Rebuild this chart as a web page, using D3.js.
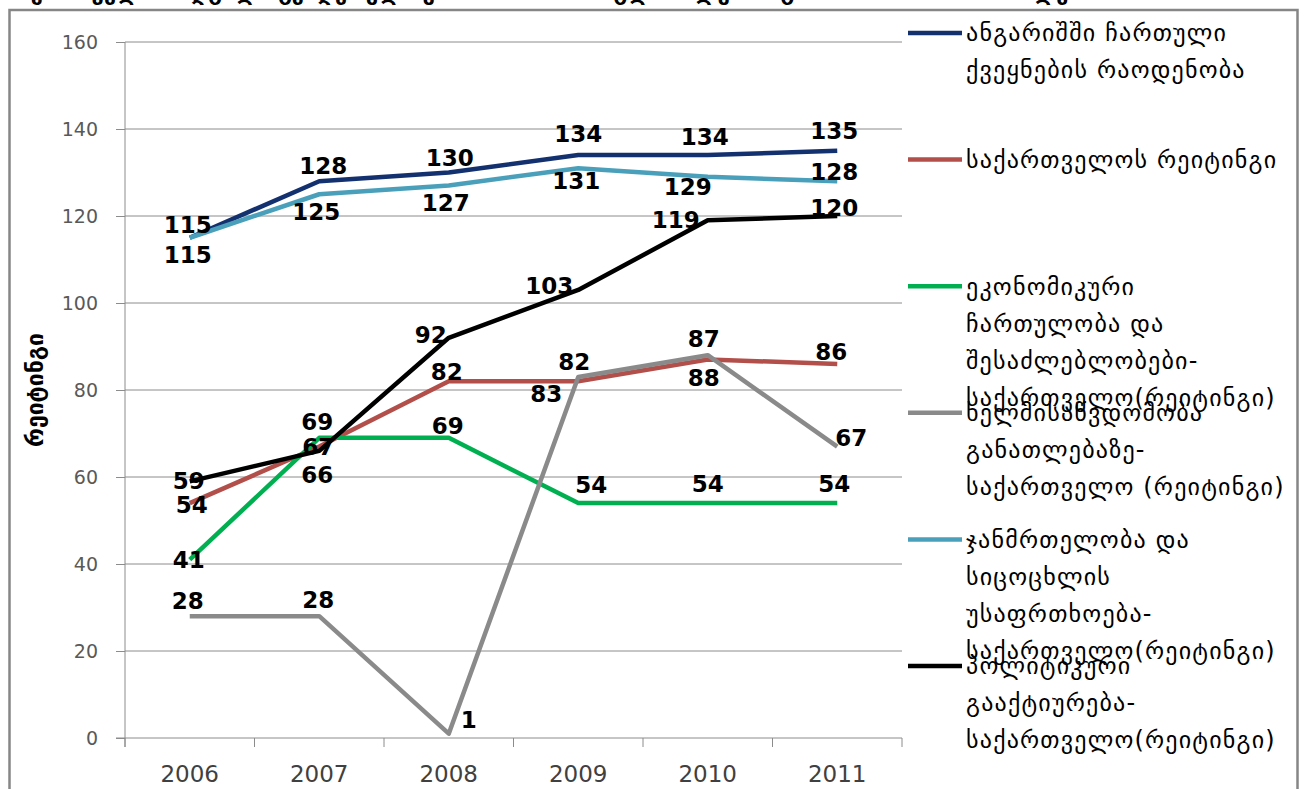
<!DOCTYPE html>
<html lang="ka">
<head>
<meta charset="utf-8">
<title>საქართველოს რეიტინგი</title>
<script src="https://d3js.org/d3.v7.min.js"></script>
<style>
  body { margin: 0; background: #fff; }
  text { font-family: "DejaVu Sans", sans-serif; }
</style>
</head>
<body>
<script>
// categories and series values
var years = ["2006", "2007", "2008", "2009", "2010", "2011"];
var countries = [115, 128, 130, 134, 134, 135];
var georgia = [54, 67, 82, 82, 87, 86];
var economic = [41, 69, 69, 54, 54, 54];
var education = [28, 28, 1, 83, 88, 67];
var health = [115, 125, 127, 131, 129, 128];
var political = [59, 66, 92, 103, 119, 120];
var yTicks = [0, 20, 40, 60, 80, 100, 120, 140, 160];

var seriesNames = [
  "ანგარიშში ჩართული\nქვეყნების რაოდენობა",
  "საქართველოს რეიტინგი",
  "ეკონომიკური\nჩართულობა და\nშესაძლებლობები-\nსაქართველო(რეიტინგი)",
  "ხელმისაწვდომობა\nგანათლებაზე-\nსაქართველო (რეიტინგი)",
  "ჯანმრთელობა და\nსიცოცხლის\nუსაფრთხოება-\nსაქართველო(რეიტინგი)",
  "პოლიტიკური\nგააქტიურება-\nსაქართველო(რეიტინგი)"
];
var yTitle = "რეიტინგი";
var title = "საქართველოს ადგილი გენდერული უთანასწორობის გლობალურ ანგარიშში 2006-2011 წლებში";

var colors = ["#13306f", "#b34f4a", "#00b050", "#8a8a8a", "#4aa0ba", "#000000"];

// where each data label sits relative to its point (label centre)
var labelShift = [
  [[-2, -13], [4, -15], [1, -15], [0, -21], [-3, -18], [-3, -20]],
  [[2, 2], [-1, 0], [-2, -9], [-4, -19], [-4, -21], [-6, -12]],
  [[-1, 0], [-2, -16], [-1, -12], [13, -18], [0, -19], [-3, -19]],
  [[-2, -15], [-1, -16], [20, -14], [-32, 17], [-4, 23], [14, -9]],
  [[-2, 17], [-3, 18], [-3, 17], [-2, 13], [-20, 10], [-3, -9]],
  [[-1, 0], [-2, 24], [-18, -3], [-29, -4], [-32, 0], [-3, -8]]
];

var series = [countries, georgia, economic, education, health, political].map(function(v, i) {
  return { name: seriesNames[i], values: v, color: colors[i], shift: labelShift[i] };
});

var W = 1304, H = 789;
var svg = d3.select("body").append("svg").attr("width", W).attr("height", H);

// outer frame
svg.append("rect")
  .attr("x", 9.5).attr("y", 10).attr("width", 1288).attr("height", 800)
  .attr("fill", "#fff").attr("stroke", "#868686").attr("stroke-width", 2.5);

// clipped title, only its lower edge shows
svg.append("text")
  .attr("x", 6).attr("y", 0)
  .attr("font-size", 22).attr("font-weight", "bold")
  .text(title);

var plotLeft = 125, plotRight = 902, plotTop = 42, plotBottom = 738;

var x = d3.scaleBand().domain(years).range([plotLeft, plotRight]).padding(0);
var y = d3.scaleLinear().domain([0, 160]).range([plotBottom, plotTop]);
var cx = function(i) { return x(years[i]) + x.bandwidth() / 2; };

// gridlines
svg.append("g").selectAll("line")
  .data(yTicks.filter(function(t) { return t > 0; }))
  .enter().append("line")
  .attr("x1", plotLeft).attr("x2", plotRight)
  .attr("y1", function(d) { return y(d); }).attr("y2", function(d) { return y(d); })
  .attr("stroke", "#8c8c8c").attr("stroke-width", 1);

// y axis
var yAxis = svg.append("g")
  .attr("transform", "translate(" + plotLeft + ",0)")
  .call(d3.axisLeft(y).tickValues(yTicks).tickSize(9).tickPadding(18));
yAxis.select(".domain").attr("stroke", "#8c8c8c").attr("d", "M0," + plotTop + "V" + (plotBottom + 9));
yAxis.selectAll(".tick line").attr("stroke", "#8c8c8c");
yAxis.selectAll(".tick text")
  .attr("font-family", "DejaVu Sans").attr("font-size", 19).attr("fill", "#595959");

// x axis with ticks at category boundaries
var xg = svg.append("g").attr("transform", "translate(0," + plotBottom + ")");
xg.append("line").attr("x1", plotLeft - 9).attr("x2", plotRight).attr("stroke", "#8c8c8c");
xg.selectAll(".bt")
  .data(years.concat(["end"]))
  .enter().append("line")
  .attr("x1", function(d, i) { return plotLeft + i * x.step(); })
  .attr("x2", function(d, i) { return plotLeft + i * x.step(); })
  .attr("y1", 0).attr("y2", 9)
  .attr("stroke", "#8c8c8c");
xg.selectAll(".yl")
  .data(years)
  .enter().append("text")
  .attr("x", function(d, i) { return cx(i); })
  .attr("y", 44)
  .attr("text-anchor", "middle")
  .attr("font-family", "'Liberation Sans Narrow', 'Liberation Sans', sans-serif")
  .attr("font-size", 23).attr("fill", "#404040")
  .text(function(d) { return d; });

// y title
svg.append("text")
  .attr("transform", "translate(43,390) rotate(-90)")
  .attr("text-anchor", "middle")
  .attr("font-size", 23).attr("font-weight", "bold")
  .text(yTitle);

// lines
var line = d3.line()
  .x(function(d, i) { return cx(i); })
  .y(function(d) { return y(d); });

svg.append("g").selectAll("path")
  .data(series)
  .enter().append("path")
  .attr("d", function(s) { return line(s.values); })
  .attr("fill", "none")
  .attr("stroke", function(s) { return s.color; })
  .attr("stroke-width", 4.5)
  .attr("stroke-linejoin", "round");

// data labels
series.forEach(function(s) {
  svg.append("g").selectAll("text")
    .data(s.values)
    .enter().append("text")
    .attr("x", function(d, i) { return cx(i) + s.shift[i][0]; })
    .attr("y", function(d, i) { return y(d) + s.shift[i][1]; })
    .attr("dy", "0.35em")
    .attr("text-anchor", "middle")
    .attr("font-family", "Lato, 'Liberation Sans', sans-serif")
    .attr("font-weight", "bold")
    .attr("font-size", 23)
    .attr("fill", "#000")
    .text(function(d) { return d; });
});

// legend
var legend = svg.append("g");
series.forEach(function(s, i) {
  var ly = 33 + i * 126.6;
  legend.append("line")
    .attr("x1", 908).attr("x2", 962)
    .attr("y1", ly).attr("y2", ly)
    .attr("stroke", s.color).attr("stroke-width", 4.5);
  s.name.split("\n").forEach(function(t, k) {
    legend.append("text")
      .attr("x", 966).attr("y", ly + k * 37)
      .attr("dy", "0.35em")
      .attr("font-size", 24)
      .attr("letter-spacing", 1.2)
      .attr("fill", "#000")
      .text(t);
  });
});
</script>
</body>
</html>
